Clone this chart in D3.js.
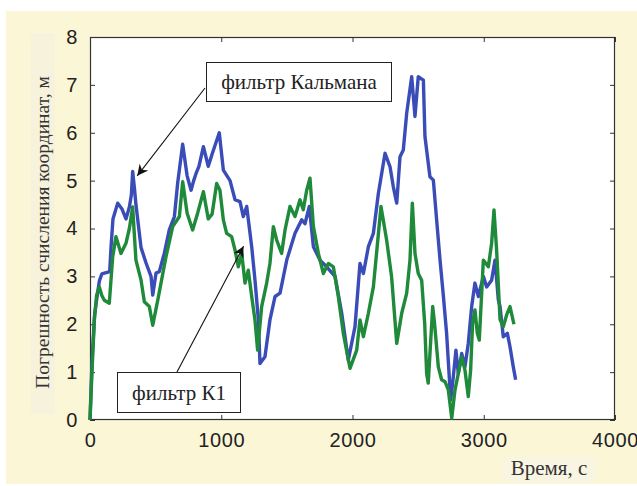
<!DOCTYPE html>
<html><head><meta charset="utf-8">
<script src="https://cdn.jsdelivr.net/npm/d3@7"></script>
<style>html,body{margin:0;padding:0;background:#fff;}svg{display:block;}</style>
</head><body>
<script>
// ---- data ----
const kalmanT = [0,15,35,50,71,90,150,160,175,211,245,274,300,315,325,340,350,389,427,465,478,503,528,566,604,643,668,706,740,770,790,808,830,864,901,930,985,1016,1067,1105,1143,1168,1194,1232,1257,1283,1295,1333,1371,1410,1448,1499,1562,1613,1638,1671,1702,1752,1803,1867,1918,1968,2019,2057,2083,2121,2159,2197,2248,2286,2311,2337,2362,2387,2413,2451,2476,2501,2540,2552,2590,2616,2641,2667,2692,2717,2748,2768,2788,2806,2832,2857,2882,2908,2933,2959,2997,3022,3060,3086,3111,3124,3149,3180,3200,3225,3243];
const kalmanV = [0,1.2,2.2,2.5,2.9,3.05,3.1,3.6,4.2,4.53,4.4,4.2,4.45,4.7,5.19,4.8,4.5,3.6,3.28,3.0,2.61,3.07,3.1,3.48,3.97,4.25,4.95,5.76,5.1,4.8,5.0,5.15,5.3,5.71,5.3,5.55,6.0,5.22,5.0,4.6,4.56,4.25,4.46,3.62,2.92,2.09,1.18,1.32,2.09,2.58,2.65,3.34,3.9,4.18,4.1,4.46,3.62,3.34,3.2,3.0,2.23,1.25,1.95,3.27,3.06,3.62,3.9,4.73,5.57,5.29,4.87,4.53,5.5,5.64,6.41,7.17,6.34,7.17,7.1,5.92,5.08,5.01,4.18,3.34,2.6,1.81,0.42,0.9,1.46,0.97,1.39,1.11,1.6,2.37,2.86,2.58,3.0,2.78,2.92,3.34,2.51,2.37,1.74,1.81,1.53,1.11,0.84];
const k1T = [0,15,33,50,71,90,109,147,173,198,236,274,300,325,350,389,414,452,478,516,579,630,681,706,740,782,820,864,901,930,965,990,1016,1041,1079,1105,1130,1156,1181,1206,1232,1257,1277,1308,1346,1371,1397,1422,1460,1486,1524,1562,1600,1625,1651,1676,1702,1740,1778,1816,1854,1892,1930,1981,2032,2057,2083,2121,2159,2217,2260,2298,2337,2375,2413,2438,2456,2476,2501,2527,2550,2565,2577,2611,2625,2654,2679,2705,2730,2756,2781,2806,2832,2857,2882,2900,2915,2933,2951,2966,2997,3035,3060,3078,3098,3124,3149,3175,3200,3230];
const k1V = [0,1.0,2.09,2.6,2.78,2.6,2.5,2.44,3.41,3.83,3.48,3.69,4.0,4.45,3.34,2.92,2.47,2.37,1.98,2.5,3.41,4.04,4.25,4.98,4.32,3.97,4.32,4.77,4.2,4.3,4.94,4.8,4.18,3.9,3.83,3.55,3.2,3.48,2.86,3.13,2.58,2.09,1.46,2.37,2.86,3.27,4.04,3.76,3.48,3.97,4.46,4.25,4.6,4.39,4.8,5.05,4.04,3.48,3.06,3.27,3.2,2.58,1.81,1.08,1.46,2.09,1.74,2.23,2.78,4.46,3.76,2.99,1.6,2.23,2.65,3.34,4.53,3.48,3.06,2.92,2.02,0.97,0.77,2.37,2.02,1.11,0.84,0.8,0.63,0.04,0.63,0.97,1.32,1.04,0.49,1.04,2.02,2.3,1.81,1.67,3.34,3.2,3.69,4.39,3.55,2.1,1.95,2.2,2.37,2.0];
const xTicks = [0,1000,2000,3000,4000];
const yTicks = [0,1,2,3,4,5,6,7,8];
const labelKalman = "фильтр Кальмана";
const labelK1 = "фильтр К1";
const xTitle = "Время, с";
const yTitle = "Погрешность счисления координат, м";

// ---- layout ----
const W = 637, H = 486;
const L = 90, R = 615, T = 37, B = 420;
const svg = d3.select("body").append("svg").attr("width", W).attr("height", H);
svg.append("rect").attr("x", 6).attr("y", 11).attr("width", W - 6).attr("height", 473).attr("fill", "#fbf6d6");
svg.append("rect").attr("x", 31).attr("y", 33).attr("width", 24).attr("height", 381).attr("fill", "#f6f2dc");
svg.append("rect").attr("x", 503).attr("y", 457).attr("width", 92).attr("height", 25).attr("fill", "#f8f5e2");

const x = d3.scaleLinear().domain([0, 4000]).range([L, R]);
const y = d3.scaleLinear().domain([0, 8]).range([B, T]);

svg.append("rect").attr("x", L).attr("y", T).attr("width", R - L).attr("height", B - T).attr("fill", "#ffffff");

const axisColor = "#333";
const fmt = d3.format("d");
function styleAxis(g) {
  g.select(".domain").remove();
  g.selectAll(".tick line").attr("stroke", axisColor).attr("stroke-width", 1);
  g.selectAll(".tick text").attr("fill", "#222").attr("font-family", "'Liberation Sans', Arial, sans-serif")
    .attr("font-size", 20).attr("letter-spacing", 0.6);
}
svg.append("g").attr("transform", `translate(0,${B})`)
  .call(d3.axisBottom(x).tickValues(xTicks).tickFormat(fmt).tickSizeInner(-5).tickSizeOuter(0).tickPadding(13))
  .call(styleAxis);
svg.append("g").attr("transform", `translate(0,${T})`)
  .call(d3.axisTop(x).tickValues(xTicks).tickFormat("").tickSizeInner(-5).tickSizeOuter(0))
  .call(styleAxis);
svg.append("g").attr("transform", `translate(${L},0)`)
  .call(d3.axisLeft(y).tickValues(yTicks).tickFormat(fmt).tickSizeInner(-5).tickSizeOuter(0).tickPadding(12))
  .call(styleAxis);
svg.append("g").attr("transform", `translate(${R},0)`)
  .call(d3.axisRight(y).tickValues(yTicks).tickFormat("").tickSizeInner(-5).tickSizeOuter(0))
  .call(styleAxis);
svg.append("rect").attr("x", L + 0.5).attr("y", T + 0.5).attr("width", R - L - 1).attr("height", B - T - 1)
  .attr("fill", "none").attr("stroke", axisColor).attr("stroke-width", 1.2);

// series
const line = d3.line().x(d => x(d[0])).y(d => y(d[1]));
const kalman = kalmanT.map((t, i) => [t, kalmanV[i]]);
const k1 = k1T.map((t, i) => [t, k1V[i]]);
svg.append("path").datum(kalman).attr("d", line).attr("fill", "none").attr("stroke", "#3a4cb8").attr("stroke-width", 3.4).attr("stroke-linejoin", "round");
svg.append("path").datum(k1).attr("d", line).attr("fill", "none").attr("stroke", "#1e8a3a").attr("stroke-width", 3.4).attr("stroke-linejoin", "round");

// annotations
const serif = "'Liberation Serif', 'Times New Roman', serif";
svg.append("defs").append("marker").attr("id", "ah").attr("viewBox", "0 0 10 10").attr("refX", 10).attr("refY", 5)
  .attr("markerWidth", 15).attr("markerHeight", 11).attr("markerUnits", "userSpaceOnUse").attr("orient", "auto")
  .append("path").attr("d", "M0,0 L10,5 L0,10 L3,5 Z").attr("fill", "#111");

function annot(bx, by, bw, bh, txt, x1, y1, tx, ty) {
  svg.append("line").attr("x1", x1).attr("y1", y1).attr("x2", x(tx)).attr("y2", y(ty))
    .attr("stroke", "#111").attr("stroke-width", 1.1).attr("marker-end", "url(#ah)");
  svg.append("rect").attr("x", bx).attr("y", by).attr("width", bw).attr("height", bh)
    .attr("fill", "#fff").attr("stroke", "#222").attr("stroke-width", 1);
  svg.append("text").attr("x", bx + bw / 2).attr("y", by + bh / 2 + 7).attr("text-anchor", "middle")
    .attr("font-family", serif).attr("font-size", 21).attr("fill", "#222").text(txt);
}
annot(206.5, 62.5, 185, 39, labelKalman, 205, 88, 360, 5.1);
annot(117.5, 372.5, 123, 40, labelK1, 177, 372, 1170, 3.63);

svg.append("text").attr("x", 549).attr("y", 475).attr("text-anchor", "middle")
  .attr("font-family", serif).attr("font-size", 21).attr("fill", "#333").text(xTitle);
svg.append("text").attr("transform", `translate(49,${(T + B) / 2 + 4}) rotate(-90)`).attr("text-anchor", "middle")
  .attr("font-family", serif).attr("font-size", 19.5).attr("fill", "#333").text(yTitle);
</script>
</body></html>
